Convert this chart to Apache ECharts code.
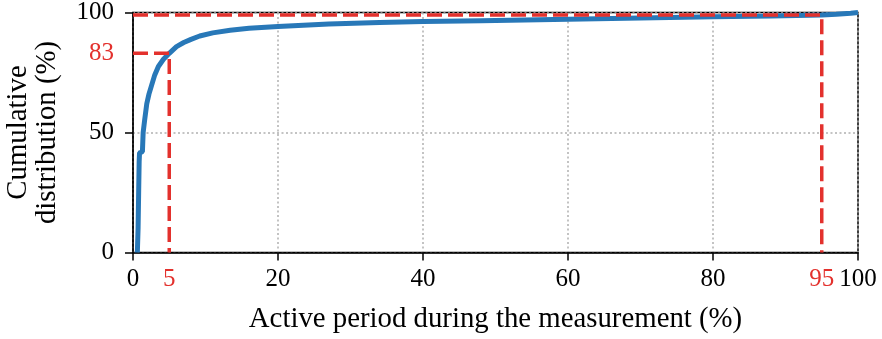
<!DOCTYPE html>
<html>
<head>
<meta charset="utf-8">
<script src="https://cdn.jsdelivr.net/npm/echarts@6/dist/echarts.min.js"></script>
<style>html,body{margin:0;padding:0;background:#fff}#c{width:882px;height:339px}</style>
</head>
<body>
<div id="c"></div>
<script>
// CDF of active period (x %, cumulative %)
const cdfX = [0.6, 0.7, 0.78, 0.85, 0.9, 1.3, 1.4, 1.6, 1.9, 2.2, 2.5, 3.0, 3.5, 4.2, 5, 6, 7, 8, 9.2, 11, 13.4, 16, 20, 27, 34, 40, 48, 60, 74, 80, 88, 95, 97, 99, 100];
const cdfY = [0, 10, 25, 38, 41.5, 42, 50, 55, 62, 66, 69, 74, 77.5, 80.5, 83, 85.8, 87.5, 88.8, 90.2, 91.5, 92.6, 93.4, 94.2, 95.2, 95.8, 96.2, 96.6, 97.2, 97.9, 98.2, 98.5, 99, 99.3, 99.7, 100];
// reference guide lines
const guide1X = [0, 5, 5];
const guide1Y = [83, 83, 0];
const guide2X = [0, 95, 95];
const guide2Y = [99, 99, 0];
// tick values
const xTicks = [0, 20, 40, 60, 80, 100];
const xLabels = [0, 5, 20, 40, 60, 80, 95, 100];
const xRed = [5, 95];
const yTicks = [0, 50, 100];
const yLabels = [0, 50, 83, 100];
const yRed = [83];

const RED = '#e3312d';
const BLUE = '#2878b8';
const FONT = 'Liberation Serif';
const zip = (a, b) => a.map((v, i) => [v, b[i]]);

const chart = echarts.init(document.getElementById('c'));
chart.setOption({
  animation: false,
  grid: { left: 133, right: 24, top: 12.5, bottom: 86.5, containLabel: false, outerBoundsMode: 'none',
    show: true, borderColor: '#000', borderWidth: 1.5, backgroundColor: 'transparent' },
  xAxis: {
    type: 'value', min: 0, max: 100, interval: 20,
    name: 'Active period during the measurement (%)',
    nameLocation: 'middle', nameGap: 52,
    nameTextStyle: { fontFamily: FONT, fontSize: 28.8, color: '#000' },
    axisLine: { show: true, lineStyle: { color: '#000', width: 1.5 } },
    axisTick: { show: true, length: 8, lineStyle: { color: '#000', width: 1.5 }, customValues: xTicks },
    axisLabel: { customValues: xLabels, margin: 14, fontFamily: FONT, fontSize: 25,
      color: v => xRed.includes(Number(v)) ? RED : '#000' },
    splitLine: { show: true, lineStyle: { color: '#b0b0b0', width: 1.5, type: [2, 2.5] } }
  },
  yAxis: {
    type: 'value', min: 0, max: 100, interval: 50,
    name: 'Cumulative\ndistribution (%)',
    nameLocation: 'middle', nameGap: 71,
    nameTextStyle: { fontFamily: FONT, fontSize: 28.8, color: '#000', lineHeight: 29 },
    axisLine: { show: true, lineStyle: { color: '#000', width: 1.5 } },
    axisTick: { show: true, length: 8, lineStyle: { color: '#000', width: 1.5 }, customValues: yTicks },
    axisLabel: { customValues: yLabels, margin: 19, fontFamily: FONT, fontSize: 25,
      color: v => yRed.includes(Number(v)) ? RED : '#000' },
    splitLine: { show: true, lineStyle: { color: '#b0b0b0', width: 1.5, type: [2, 2.5] } }
  },
  series: [
    { type: 'line', data: zip(cdfX, cdfY), showSymbol: false, symbol: 'none', lineStyle: { color: BLUE, width: 5 }, z: 3 },
    { type: 'line', data: zip(guide1X, guide1Y), showSymbol: false, symbol: 'none', lineStyle: { color: RED, width: 3.5, type: [15, 6] }, z: 4 },
    { type: 'line', data: zip(guide2X, guide2Y), showSymbol: false, symbol: 'none', lineStyle: { color: RED, width: 3.5, type: [15, 6] }, z: 4 }
  ]
});
</script>
</body>
</html>
